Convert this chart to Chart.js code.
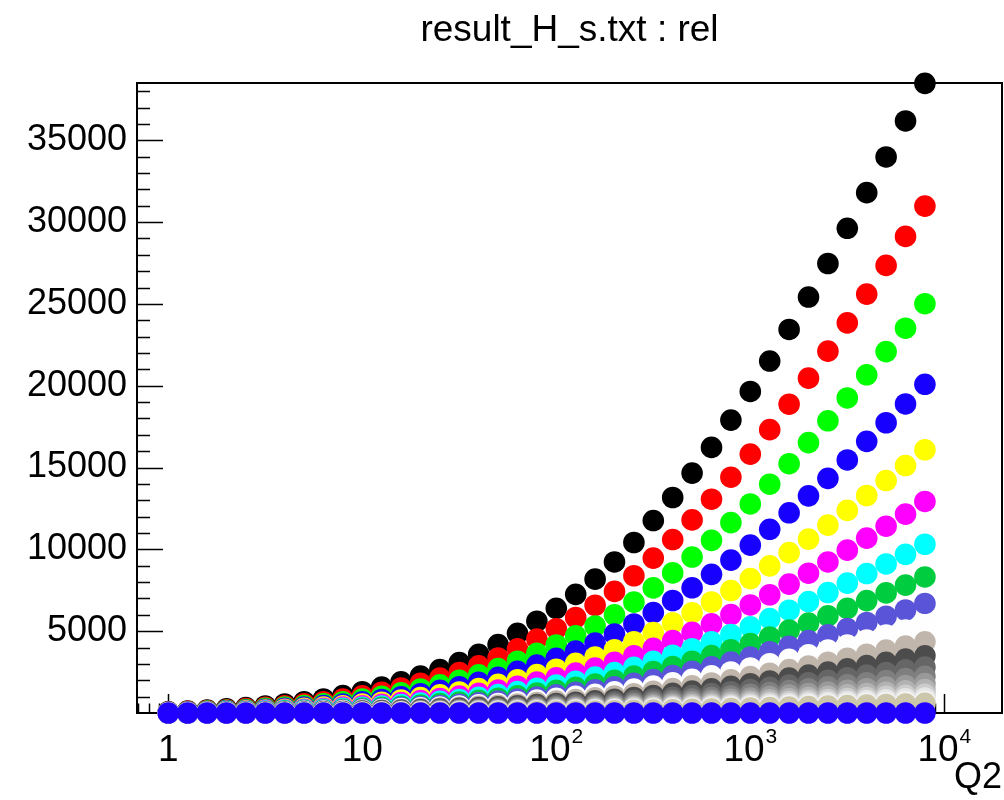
<!DOCTYPE html>
<html>
<head>
<meta charset="utf-8">
<script src="https://cdn.jsdelivr.net/npm/chart.js@4.4.1/dist/chart.umd.min.js"></script>
<style>
  body { margin: 0; background: #fff; }
  #wrap { width: 1004px; height: 800px; }
</style>
</head>
<body>
<div id="wrap"><canvas id="c" width="1004" height="800"></canvas></div>
<script>
// data

const q2 = [1, 1.259, 1.585, 1.995, 2.512, 3.162, 3.981, 5.012, 6.31, 7.943,
  10, 12.59, 15.85, 19.95, 25.12, 31.62, 39.81, 50.12, 63.1, 79.43,
  100, 125.9, 158.5, 199.5, 251.2, 316.2, 398.1, 501.2, 631, 794.3,
  1000, 1259, 1585, 1995, 2512, 3162, 3981, 5012, 6310, 7943];

const sBlack = [70, 120, 180, 250, 330, 430, 550, 690, 860, 1060, 1300, 1580, 1900, 2260, 2650, 3080, 3580, 4180, 4870, 5610, 6400, 7250, 8180, 9230, 10420, 11760, 13170, 14660, 16230, 17900, 19650, 21510, 23440, 25420, 27470, 29620, 31800, 33980, 36180, 38480];
const sRed = [56, 97, 145, 201, 266, 346, 443, 555, 692, 853, 1047, 1272, 1530, 1819, 2133, 2479, 2882, 3365, 3920, 4516, 5152, 5836, 6585, 7430, 8388, 9467, 10602, 11801, 13065, 14410, 15818, 17316, 18869, 20463, 22113, 23844, 25599, 27354, 29125, 30976];
const sGreen = [46, 78, 117, 163, 215, 280, 358, 449, 559, 689, 845, 1027, 1235, 1469, 1723, 2002, 2327, 2717, 3166, 3647, 4160, 4713, 5317, 6000, 6773, 7644, 8561, 9529, 10550, 11635, 12773, 13982, 15236, 16523, 17856, 19253, 20670, 22087, 23517, 25012];
const sBlue = [37, 63, 94, 131, 172, 224, 287, 360, 449, 553, 679, 825, 992, 1180, 1383, 1608, 1869, 2182, 2542, 2928, 3341, 3785, 4270, 4818, 5439, 6139, 6875, 7653, 8472, 9344, 10257, 11228, 12236, 13269, 14339, 15462, 16600, 17738, 18886, 20087];
const sYellow = [29, 50, 75, 105, 138, 180, 230, 288, 359, 443, 543, 660, 794, 945, 1108, 1287, 1496, 1747, 2036, 2345, 2675, 3031, 3419, 3858, 4356, 4916, 5505, 6128, 6784, 7482, 8214, 8991, 9798, 10626, 11482, 12381, 13292, 14204, 15123, 16085];
const sMagenta = [24, 40, 60, 84, 111, 144, 185, 232, 289, 356, 437, 531, 638, 759, 890, 1035, 1203, 1404, 1636, 1885, 2150, 2436, 2748, 3101, 3501, 3951, 4425, 4926, 5453, 6014, 6602, 7227, 7876, 8541, 9230, 9952, 10685, 11417, 12156, 12929];
const sCyan = [19, 32, 48, 67, 88, 115, 147, 185, 230, 284, 348, 423, 509, 606, 710, 825, 959, 1120, 1305, 1503, 1715, 1943, 2192, 2474, 2793, 3152, 3530, 3929, 4350, 4797, 5266, 5765, 6282, 6813, 7362, 7938, 8522, 9107, 9696, 10313];
const sGreen2 = [15, 26, 39, 54, 71, 93, 119, 149, 186, 229, 281, 341, 410, 488, 572, 665, 773, 903, 1052, 1212, 1382, 1566, 1767, 1994, 2251, 2540, 2845, 3167, 3506, 3866, 4244, 4646, 5063, 5491, 5934, 6398, 6869, 7340, 7815, 8312];
const sViolet = [12, 21, 31, 44, 57, 75, 96, 120, 150, 184, 226, 275, 331, 393, 461, 536, 623, 727, 847, 976, 1114, 1262, 1423, 1606, 1813, 2046, 2292, 2551, 2824, 3115, 3419, 3743, 4079, 4423, 4780, 5154, 5533, 5913, 6295, 6696];
const sWhite = [10, 17, 25, 35, 46, 60, 77, 97, 120, 148, 182, 221, 266, 316, 371, 431, 501, 585, 682, 785, 896, 1015, 1145, 1292, 1459, 1646, 1844, 2052, 2272, 2506, 2751, 3011, 3282, 3559, 3846, 4147, 4452, 4757, 5065, 5387];
const sBeige = [8, 14, 20, 28, 37, 49, 62, 78, 97, 120, 147, 179, 215, 255, 299, 348, 405, 472, 550, 634, 723, 819, 924, 1043, 1177, 1329, 1488, 1657, 1834, 2023, 2220, 2431, 2649, 2872, 3104, 3347, 3593, 3840, 4088, 4348];
const sGray30 = [6, 11, 16, 23, 30, 39, 50, 63, 78, 96, 118, 144, 173, 206, 241, 280, 326, 380, 443, 511, 582, 660, 744, 840, 948, 1070, 1198, 1334, 1477, 1629, 1788, 1957, 2133, 2313, 2500, 2695, 2894, 3092, 3292, 3502];
const sGray40 = [5, 9, 13, 18, 24, 31, 40, 50, 62, 77, 94, 115, 138, 165, 193, 224, 261, 304, 354, 409, 466, 528, 595, 672, 758, 856, 958, 1067, 1182, 1303, 1430, 1566, 1706, 1850, 2000, 2156, 2315, 2474, 2634, 2802];
const sGray50 = [4, 7, 10, 15, 19, 25, 32, 40, 50, 61, 76, 92, 111, 132, 154, 179, 209, 243, 284, 327, 372, 422, 476, 538, 607, 685, 767, 854, 945, 1043, 1144, 1252, 1365, 1480, 1600, 1725, 1852, 1979, 2107, 2241];
const sGray60 = [3, 6, 8, 12, 15, 20, 26, 32, 40, 49, 60, 74, 89, 105, 123, 143, 167, 195, 227, 262, 298, 338, 381, 430, 485, 548, 613, 683, 756, 834, 915, 1002, 1092, 1184, 1280, 1380, 1482, 1583, 1685, 1793];
const sGray70 = [2, 5, 7, 9, 12, 16, 21, 26, 32, 39, 48, 59, 71, 84, 99, 115, 134, 156, 182, 210, 239, 271, 305, 344, 389, 439, 491, 547, 606, 668, 733, 802, 875, 948, 1025, 1105, 1187, 1268, 1350, 1436];
const sGray80 = [2, 4, 5, 8, 10, 13, 16, 21, 26, 31, 39, 47, 57, 68, 79, 92, 107, 125, 145, 168, 191, 216, 244, 276, 311, 351, 393, 438, 484, 534, 586, 642, 700, 759, 820, 884, 949, 1014, 1080, 1149];
const sGray90 = [2, 3, 4, 6, 8, 10, 13, 17, 20, 25, 31, 38, 45, 54, 63, 73, 85, 100, 116, 134, 152, 173, 195, 220, 248, 280, 314, 350, 387, 427, 468, 513, 559, 606, 655, 706, 758, 810, 862, 918];
const sGray95 = [1, 2, 3, 5, 6, 8, 11, 13, 16, 20, 25, 30, 36, 43, 51, 59, 68, 80, 93, 107, 122, 139, 156, 176, 199, 225, 252, 280, 310, 342, 375, 411, 448, 486, 525, 566, 608, 649, 691, 735];
const sKhaki = [1, 2, 3, 4, 5, 7, 8, 11, 13, 16, 20, 24, 29, 35, 40, 47, 55, 64, 74, 86, 98, 111, 125, 141, 159, 180, 201, 224, 248, 274, 300, 329, 358, 389, 420, 453, 486, 519, 553, 588];
const sFloor = [0, 0, 0, 0, 0, 0, 0, 0, 0, 0, 0, 0, 0, 0, 0, 0, 0, 0, 0, 0, 0, 0, 0, 0, 0, 0, 0, 0, 0, 0, 0, 0, 0, 0, 0, 0, 0, 0, 0, 0];

const allSeries = [sBlack, sRed, sGreen, sBlue, sYellow, sMagenta, sCyan, sGreen2, sViolet, sWhite,
  sBeige, sGray30, sGray40, sGray50, sGray60, sGray70, sGray80, sGray90, sGray95, sKhaki, sFloor];
const seriesColors = ['#000000', '#ff0000', '#00ff00', '#1800ff', '#ffff00', '#ff00ff', '#00ffff', '#00cc40', '#5954d8', '#fefefe',
  '#c0b6ac', '#4c4c4c', '#666666', '#7f7f7f', '#999999', '#b2b2b2', '#cccccc', '#e5e5e5', '#f2f2f2', '#ccc6aa', '#2000ff'];

const xTickValues = [1, 10, 100, 1000, 10000];
const xTickBase = ['1', '10', '10', '10', '10'];
const xTickExp = ['', '', '2', '3', '4'];
const yTickValues = [5000, 10000, 15000, 20000, 25000, 30000, 35000];

const fontFamily = "'Liberation Sans', Arial, Helvetica, sans-serif";

// frame and inner ticks, root style
const rootFrame = {
  id: 'rootFrame',
  beforeDatasetsDraw(chart) {
    const { ctx, chartArea: a, scales: { x, y } } = chart;
    ctx.save();
    ctx.strokeStyle = '#000';
    ctx.lineWidth = 2;
    ctx.strokeRect(a.left, a.top, a.right - a.left, a.bottom - a.top);

    ctx.beginPath();
    for (let v = 1000; v <= y.max; v += 1000) {
      const py = Math.round(y.getPixelForValue(v)) + 0.5;
      const len = v % 5000 === 0 ? 26 : 13;
      ctx.moveTo(a.left, py);
      ctx.lineTo(a.left + len, py);
    }
    for (let d = 0.1; d < x.max; d *= 10) {
      for (let m = 1; m < 10; m++) {
        const v = d * m;
        if (v < x.min || v > x.max) continue;
        const px = Math.round(x.getPixelForValue(v)) + 0.5;
        const len = m === 1 ? 19 : 9.5;
        ctx.moveTo(px, a.bottom);
        ctx.lineTo(px, a.bottom - len);
      }
    }
    ctx.lineWidth = 1.5;
    ctx.stroke();

    // x labels with real superscripts
    ctx.fillStyle = '#000';
    ctx.textBaseline = 'alphabetic';
    ctx.textAlign = 'left';
    xTickValues.forEach((v, i) => {
      const px = x.getPixelForValue(v);
      ctx.font = '37px ' + fontFamily;
      const wb = ctx.measureText(xTickBase[i]).width;
      ctx.font = '21px ' + fontFamily;
      const we = xTickExp[i] ? ctx.measureText(xTickExp[i]).width + 1 : 0;
      const left = px - (wb + we) / 2;
      ctx.font = '37px ' + fontFamily;
      ctx.fillText(xTickBase[i], left, a.bottom + 48);
      if (xTickExp[i]) {
        ctx.font = '21px ' + fontFamily;
        ctx.fillText(xTickExp[i], left + wb + 1, a.bottom + 30);
      }
    });
    ctx.restore();
  }
};

new Chart(document.getElementById('c'), {
  type: 'scatter',
  data: {
    datasets: allSeries.map((vals, i) => ({
      data: q2.map((xv, k) => ({ x: xv, y: vals[k] })),
      backgroundColor: seriesColors[i],
      borderWidth: 0,
      pointRadius: 10.8,
      pointHoverRadius: 10.8,
      order: -i,
      clip: false
    }))
  },
  options: {
    responsive: false,
    animation: false,
    layout: { autoPadding: false, padding: { left: 0, right: 2, top: 0, bottom: 0 } },
    plugins: {
      legend: { display: false },
      tooltip: { enabled: false },
      title: {
        display: true,
        fullSize: false,
        text: 'result_H_s.txt : rel',
        color: '#000',
        font: { family: fontFamily, size: 37, weight: 'normal' },
        padding: { top: 9, bottom: 29.6 }
      }
    },
    scales: {
      x: {
        type: 'logarithmic',
        min: 0.69,
        max: 19830,
        grid: { display: false, drawTicks: false },
        border: { display: false },
        afterBuildTicks: s => { s.ticks = xTickValues.map(v => ({ value: v })); },
        afterFit: s => { s.height = 87; s.paddingLeft = 0; s.paddingRight = 0; },
        ticks: { display: false },
        title: {
          display: true,
          text: 'Q2',
          align: 'end',
          color: '#000',
          font: { family: fontFamily, size: 36 },
          padding: 0
        }
      },
      y: {
        min: 0,
        max: 38500,
        grid: { display: false, drawTicks: false },
        border: { display: false },
        afterBuildTicks: s => { s.ticks = yTickValues.map(v => ({ value: v })); },
        afterFit: s => { s.width = 137; s.paddingTop = 0; s.paddingBottom = 0; },
        ticks: {
          callback: v => String(v),
          color: '#000',
          font: { family: fontFamily, size: 36 },
          padding: 10
        }
      }
    }
  },
  plugins: [rootFrame]
});
</script>
</body>
</html>
